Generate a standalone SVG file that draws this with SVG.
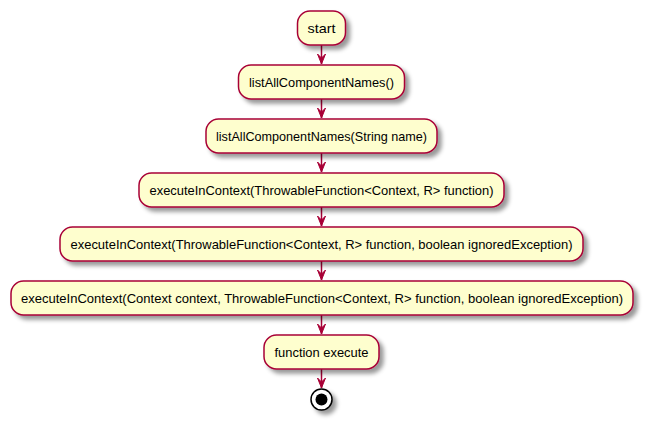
<svg xmlns="http://www.w3.org/2000/svg" width="647" height="427" viewBox="0 0 647 427">
<defs>
<filter id="sh" x="-1" y="-1" width="300%" height="300%">
<feGaussianBlur in="SourceAlpha" stdDeviation="2" result="b"/>
<feColorMatrix in="b" type="matrix" values="0 0 0 0 0 0 0 0 0 0 0 0 0 0 0 0 0 0 0.4 0" result="c"/>
<feOffset in="c" dx="4" dy="4" result="o"/>
<feMerge><feMergeNode in="o"/><feMergeNode in="SourceGraphic"/></feMerge>
</filter>
<marker id="ah" markerWidth="12" markerHeight="10" refX="10" refY="5" orient="auto" markerUnits="userSpaceOnUse" viewBox="0 0 12 10">
<polygon points="0,1 10,5 0,9 4,5" fill="#A80036" stroke="#A80036" stroke-width="1"/>
</marker>
</defs>
<style>
.n rect{fill:#FEFECE;stroke:#A80036;stroke-width:1.5;filter:url(#sh)}
.n text{font-family:"Liberation Sans",Arial,sans-serif;font-size:13px;fill:#000;text-anchor:middle}
.c line{stroke:#A80036;stroke-width:1.5;marker-end:url(#ah)}
</style>
<rect width="647" height="427" fill="#FFFFFF"/>
<g class="c" id="connectors">
<line x1="321.5" y1="45" x2="321.5" y2="64"/>
<line x1="321.5" y1="99" x2="321.5" y2="118"/>
<line x1="321.5" y1="153" x2="321.5" y2="172"/>
<line x1="321.5" y1="207" x2="321.5" y2="226"/>
<line x1="321.5" y1="261" x2="321.5" y2="280"/>
<line x1="321.5" y1="315" x2="321.5" y2="334"/>
<line x1="321.5" y1="369" x2="321.5" y2="388"/>
</g>
<g class="n" id="start"><rect x="297.5" y="11" width="48" height="34" rx="12.5"/><text x="321.5" y="32.5" textLength="28" lengthAdjust="spacingAndGlyphs">start</text></g>
<g class="n" id="n1"><rect x="238.5" y="65" width="166" height="34" rx="12.5"/><text x="321.5" y="86.5" textLength="145" lengthAdjust="spacingAndGlyphs">listAllComponentNames()</text></g>
<g class="n" id="n2"><rect x="206" y="119" width="231" height="34" rx="12.5"/><text x="321.5" y="140.5" textLength="211" lengthAdjust="spacingAndGlyphs">listAllComponentNames(String name)</text></g>
<g class="n" id="n3"><rect x="139" y="173" width="365" height="34" rx="12.5"/><text x="321.5" y="194.5" textLength="344" lengthAdjust="spacingAndGlyphs">executeInContext(ThrowableFunction&lt;Context, R&gt; function)</text></g>
<g class="n" id="n4"><rect x="60" y="227" width="523" height="34" rx="12.5"/><text x="321.5" y="248.5" textLength="502" lengthAdjust="spacingAndGlyphs">executeInContext(ThrowableFunction&lt;Context, R&gt; function, boolean ignoredException)</text></g>
<g class="n" id="n5"><rect x="11" y="281" width="622" height="34" rx="12.5"/><text x="322" y="302.5" textLength="602" lengthAdjust="spacingAndGlyphs">executeInContext(Context context, ThrowableFunction&lt;Context, R&gt; function, boolean ignoredException)</text></g>
<g class="n" id="n6"><rect x="264" y="335" width="115" height="34" rx="12.5"/><text x="321.5" y="356.5" textLength="94" lengthAdjust="spacingAndGlyphs">function execute</text></g>
<g id="end" filter="url(#sh)"><circle cx="321.5" cy="399.5" r="10.5" fill="#FFFFFF" stroke="#000000" stroke-width="1.5"/><circle cx="321.5" cy="399.5" r="6" fill="#000000"/></g>
</svg>
